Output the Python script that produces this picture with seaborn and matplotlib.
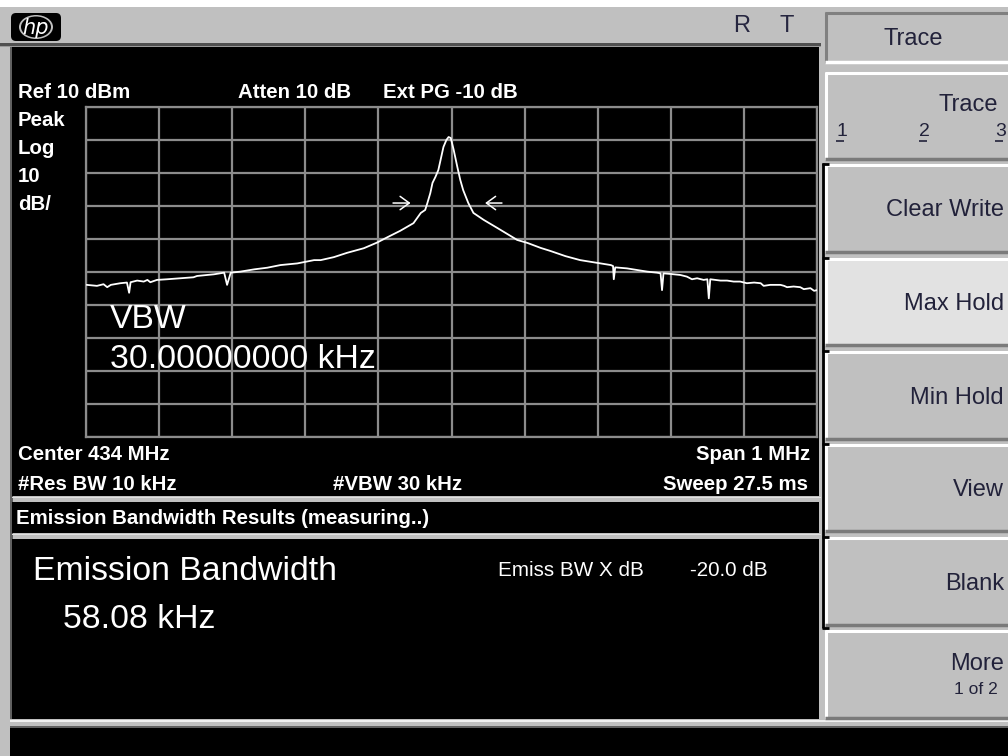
import numpy as np
import pandas as pd
import matplotlib
matplotlib.use("Agg")
import matplotlib.pyplot as plt
import seaborn as sns
from matplotlib.patches import Rectangle, FancyBboxPatch, Ellipse

# ---------------- data ----------------
center_mhz = 434.0
span_mhz = 1.0
ref_level_dbm = 10
db_per_div = 10
n_div = 10

freq_offset_khz = [
    -499, -485, -476, -471, -466, -453, -444, -441, -439, -430, -421, -416, -412,
    -403, -389, -371, -353, -348, -325, -311, -307, -302, -289, -270, -252, -234,
    -211, -188, -179, -161, -143, -120, -102, -88, -70, -52, -42, -36, -33, -29,
    -26, -22, -18, -15, -11, -7, -4, -1, 3, 8, 12, 16, 23, 30, 44, 63, 90, 104,
    122, 135, 156, 176, 190, 204, 218, 221, 222, 224, 240, 254, 268, 281, 286,
    288, 290, 300, 313, 322, 329, 336, 345, 350, 352, 354, 368, 377, 386, 395,
    404, 414, 423, 427, 436, 450, 455, 459, 468, 477, 482, 491, 496, 500,
]
level_dbm = [
    -43.9, -44.2, -43.7, -44.6, -43.9, -43.4, -43.2, -46.3, -43.1, -42.6, -42.9,
    -42.4, -43.1, -42.4, -42.2, -41.9, -41.6, -41.2, -40.7, -40.2, -43.9, -40.2,
    -39.9, -39.2, -38.7, -37.9, -37.4, -36.4, -36.4, -35.5, -34.2, -32.8, -31.1,
    -29.5, -27.5, -25.2, -22.1, -21.2, -19.1, -16.1, -13.0, -11.2, -9.1, -6.1,
    -2.1, 0.0, 0.9, 0.6, -3.0, -8.2, -12.1, -15.2, -19.1, -22.1, -24.2, -26.7,
    -30.3, -31.2, -32.7, -33.6, -35.2, -36.4, -36.9, -37.4, -37.9, -38.2, -42.2,
    -38.6, -38.9, -39.4, -39.9, -40.2, -40.4, -45.5, -40.4, -40.6, -40.9, -41.4,
    -42.2, -41.9, -42.4, -42.2, -48.0, -42.2, -42.6, -42.6, -42.9, -42.9, -43.4,
    -43.2, -43.4, -44.2, -43.9, -43.9, -44.2, -44.6, -44.4, -44.6, -45.2, -44.9,
    -45.7, -45.5,
]

emission_bw_khz = 58.08
emiss_x_db = -20.0

header_labels = ["Ref 10 dBm", "Atten 10 dB", "Ext PG -10 dB"]
scale_labels = ["Peak", "Log", "10", "dB/"]
softkeys = ["Clear Write", "Max Hold", "Min Hold", "View", "Blank"]

df = pd.DataFrame({
    "freq": center_mhz + np.array(freq_offset_khz) / 1000.0,
    "level": level_dbm,
})

# ---------------- style ----------------
sns.set_theme(style="dark")
plt.rcParams["font.family"] = ["Liberation Sans", "DejaVu Sans"]

GRAY = "#c0c0c0"
fig = plt.figure(figsize=(10.08, 7.56), dpi=100, facecolor=GRAY)

bg = fig.add_axes([0, 0, 1, 1])
bg.set_xlim(0, 1008)
bg.set_ylim(756, 0)
bg.axis("off")
bg.set_zorder(0)


def rect(x0, y0, x1, y1, color, z=1):
    bg.add_patch(Rectangle((x0, y0), x1 - x0, y1 - y0, facecolor=color,
                           edgecolor="none", zorder=z))


def hline(y, x0, x1, color, lw=1.5, z=3):
    bg.plot([x0, x1], [y, y], color=color, lw=lw, zorder=z, solid_capstyle="butt")


def vline(x, y0, y1, color, lw=1.5, z=3):
    bg.plot([x, x], [y0, y1], color=color, lw=lw, zorder=z, solid_capstyle="butt")


# top strip & title bar
rect(0, 0, 1008, 7, "white")
rect(0, 7, 821, 43, GRAY)
rect(0, 43, 821, 45.5, "#505050")
rect(0, 45.5, 821, 46.5, "#9a9a9a")

# hp logo
bg.add_patch(FancyBboxPatch((11, 13), 50, 28,
                            boxstyle="round,pad=0,rounding_size=5",
                            facecolor="black", edgecolor="none", zorder=3))
bg.add_patch(Ellipse((36, 27), 34, 24, fill=True, facecolor=GRAY,
                     edgecolor="none", zorder=4))
bg.add_patch(Ellipse((36, 27), 30, 21, fill=True, facecolor="black",
                     edgecolor="none", zorder=4))
bg.text(36, 27.5, "hp", color="white", fontsize=15, style="italic",
        ha="center", va="center", zorder=5, family=["DejaVu Sans"])

bg.text(733, 26, "R", fontsize=17, color="#262640", ha="left", va="center", zorder=5)
bg.text(779, 26, "T", fontsize=17, color="#262640", ha="left", va="center", zorder=5)

# black screen regions
rect(10, 46.5, 12.5, 719, "#606060")
rect(12, 46.5, 819, 496, "black")
rect(12, 496.5, 821, 498, "#e0e0e0", z=2)
rect(12, 502, 819, 533, "black")
rect(12, 533.5, 821, 535, "#e0e0e0", z=2)
rect(12, 539, 819, 719, "black")
rect(10, 719.5, 1008, 722, "#f0f0f0", z=2)
rect(10, 725.5, 1008, 727.5, "#606060", z=2)
rect(10, 727.5, 1008, 756, "black")

# ---------------- right softkey panel ----------------
def button(y0, y1, fill=GRAY, sunken=False):
    x0, x1 = 825, 1012
    rect(x0, y0, x1, y1, fill, z=2)
    top_c = "#808080" if sunken else "white"
    bot_c = "white" if sunken else "#7a7a7a"
    hline(y0 + 1, x0, x1, top_c, lw=2.2)
    vline(x0 + 1, y0, y1, top_c, lw=2.2)
    hline(y1 - 1.5, x0, x1, bot_c, lw=2.5)


button(12, 63, sunken=True)
button(72, 160)
btn_rows = [(164, 253), (258, 346), (351, 440), (444, 532), (537, 626)]
for i, (y0, y1) in enumerate(btn_rows):
    button(y0, y1, fill="#e2e2e2" if softkeys[i] == "Max Hold" else GRAY)
button(630, 719)

# black bracket along the softkeys
vline(822.5, 163, 628, "black", lw=2)
for y0, _ in btn_rows + [(628, 0)]:
    hline(y0, 821.5, 829, "black", lw=2)

BTN_TXT = "#22223a"
bg.text(913, 39, "Trace", fontsize=17, color=BTN_TXT, ha="center", va="center", zorder=6)
bg.text(998, 105, "Trace", fontsize=17, color=BTN_TXT, ha="right", va="center", zorder=6)
for xn, lab in [(836, "1"), (919, "2"), (995, "3")]:
    bg.text(xn, 131, lab, fontsize=14, color=BTN_TXT, ha="left", va="center", zorder=6)
    hline(141, xn, xn + 8, BTN_TXT, lw=1.2, z=6)
for (y0, y1), lab in zip(btn_rows, softkeys):
    bg.text(1004, (y0 + y1) / 2 + 2, lab, fontsize=17, color=BTN_TXT,
            ha="right", va="center", zorder=6)
bg.text(1004, 664, "More", fontsize=17, color=BTN_TXT, ha="right", va="center", zorder=6)
bg.text(998, 690, "1 of 2", fontsize=12.5, color=BTN_TXT, ha="right", va="center", zorder=6)

# ---------------- screen annotations ----------------
BOLD = dict(fontsize=14.7, fontweight="bold", color="white", va="center", zorder=6)
for xh, lab in zip([18, 238, 383], header_labels):
    bg.text(xh, 93, lab, ha="left", **BOLD)
for yy, lab in zip([120, 148, 176, 204], scale_labels):
    bg.text(18, yy, lab, ha="left", **BOLD)

bg.text(18, 455, f"Center {center_mhz:g} MHz", ha="left", **BOLD)
bg.text(810, 455, f"Span {span_mhz:g} MHz", ha="right", **BOLD)
bg.text(18, 485, "#Res BW 10 kHz", ha="left", **BOLD)
bg.text(333, 485, "#VBW 30 kHz", ha="left", **BOLD)
bg.text(808, 485, "Sweep 27.5 ms", ha="right", **BOLD)
bg.text(16, 519, "Emission Bandwidth Results (measuring..)", ha="left", **BOLD)

BIG = dict(fontsize=24.3, color="white", va="center", ha="left", zorder=6)
bg.text(33, 572, "Emission Bandwidth", **BIG)
bg.text(63, 620, f"{emission_bw_khz:.2f} kHz", **BIG)
bg.text(498, 571, "Emiss BW X dB", fontsize=14.9, color="white", ha="left",
        va="center", zorder=6)
bg.text(690, 571, f"{emiss_x_db:.1f} dB", fontsize=14.9, color="white", ha="left",
        va="center", zorder=6)

# ---------------- trace axes ----------------
ax = fig.add_axes([86 / 1008, 1 - 437 / 756, 731 / 1008, 330 / 756])
ax.set_zorder(5)
ax.set_facecolor("black")
sns.lineplot(data=df, x="freq", y="level", ax=ax, color="white", lw=1.3,
             sort=False, estimator=None, zorder=5)

x_lo, x_hi = center_mhz - span_mhz / 2, center_mhz + span_mhz / 2
y_hi = ref_level_dbm
y_lo = ref_level_dbm - db_per_div * n_div
ax.set_xlim(x_lo, x_hi)
ax.set_ylim(y_lo, y_hi)
ax.set_xticks(np.linspace(x_lo, x_hi, n_div + 1))
ax.set_yticks(np.linspace(y_lo, y_hi, n_div + 1))
ax.tick_params(length=0, labelbottom=False, labelleft=False)
ax.grid(True, color="#8c8c8c", lw=1.6)
for sp in ax.spines.values():
    sp.set_visible(True)
    sp.set_color("#8c8c8c")
    sp.set_linewidth(1.6)
ax.set_xlabel("")
ax.set_ylabel("")

# VBW overlay text (drawn over the grid)
ax.text(0.033, 0.355, "VBW", transform=ax.transAxes, fontsize=24.3,
        color="white", ha="left", va="center", zorder=7)
ax.text(0.033, 0.235, "30.00000000 kHz", transform=ax.transAxes, fontsize=24.3,
        color="white", ha="left", va="center", zorder=7)

# -20 dB markers
peak = max(level_dbm)
arrow_lvl = peak - 20
akw = dict(arrowstyle="->,head_length=0.55,head_width=0.4", color="white", lw=1.1,
           shrinkA=0, shrinkB=0)
ax.annotate("", xy=(center_mhz - 0.056, arrow_lvl), xytext=(center_mhz - 0.080, arrow_lvl),
            arrowprops=akw, zorder=7)
ax.annotate("", xy=(center_mhz + 0.046, arrow_lvl), xytext=(center_mhz + 0.069, arrow_lvl),
            arrowprops=akw, zorder=7)

fig.savefig("out.png", dpi=100, facecolor=GRAY)
